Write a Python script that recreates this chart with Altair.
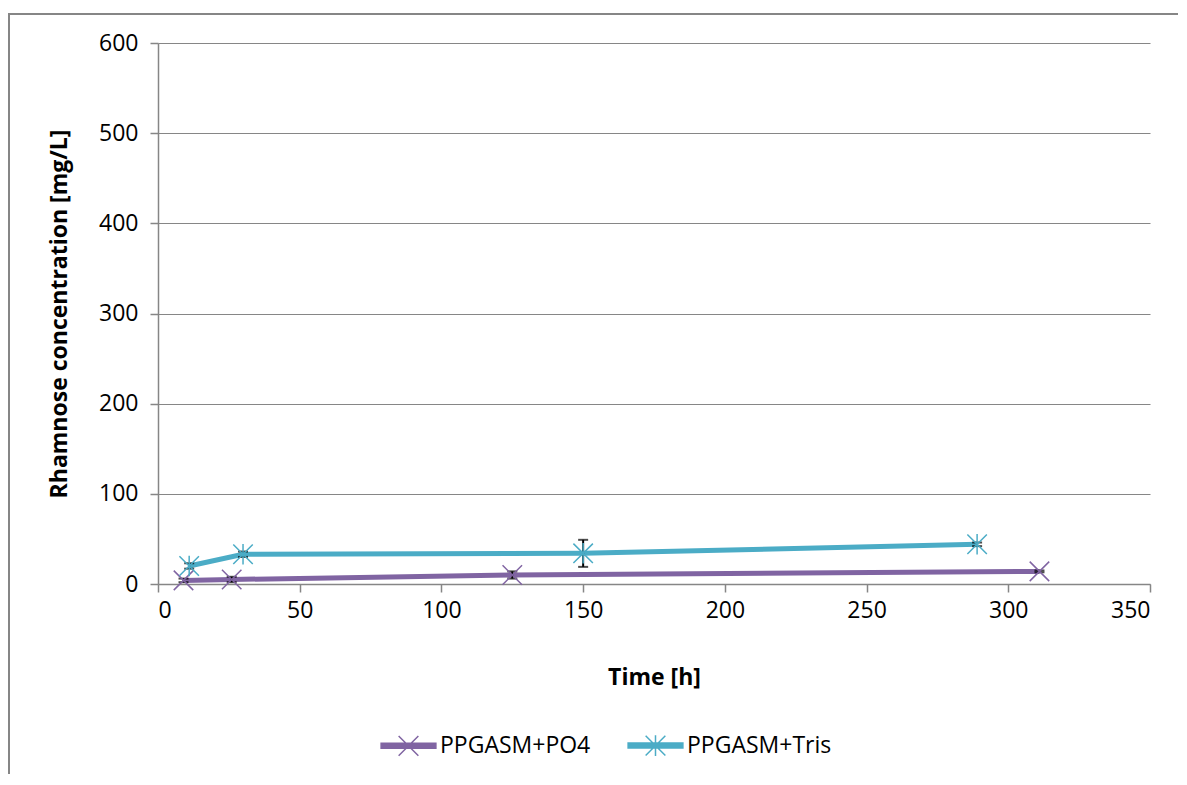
import altair as alt
import pandas as pd

series_names = ["PPGASM+PO4", "PPGASM+Tris"]
colors = ["#8064A2", "#4BACC6"]

po4_time = [9, 26, 125, 311]
po4_conc = [4, 5, 10, 14]
po4_err = [2, 3, 4, 1]

tris_time = [11, 30, 150, 289]
tris_conc = [20, 33, 34, 44]
tris_err = [3, 3, 15, 2]

rows = []
for t, c, e in zip(po4_time, po4_conc, po4_err):
    rows.append({"series": series_names[0], "time": t, "conc": c, "lo": c - e, "hi": c + e})
for t, c, e in zip(tris_time, tris_conc, tris_err):
    rows.append({"series": series_names[1], "time": t, "conc": c, "lo": c - e, "hi": c + e})
df = pd.DataFrame(rows)

FONT = "Open Sans"
FS = 23
x_path = "M-1,-1L1,1M-1,1L1,-1"
star_path = "M-1,-1L1,1M-1,1L1,-1M0,-1.05L0,1.05"
legend_bar = "M-1,-0.09L1,-0.09L1,0.09L-1,0.09Z "
legend_x = legend_bar + "M-0.36,-0.36L0.36,0.36M-0.36,0.36L0.36,-0.36"
legend_star = legend_x + "M0,-0.38L0,0.38"

x_scale = alt.Scale(domain=[0, 350], nice=False, zero=True)
y_scale = alt.Scale(domain=[0, 600], nice=False)

x_axis = alt.Axis(title="Time [h]", values=list(range(0, 351, 50)), grid=False,
                  tickSize=8, labelPadding=7, titlePadding=44)
y_axis = alt.Axis(title="Rhamnose concentration [mg/L]", values=list(range(0, 601, 100)),
                  grid=True, tickSize=8, labelPadding=12, titlePadding=27)

color_scale = alt.Scale(domain=series_names, range=colors)
legend_shape_scale = alt.Scale(domain=series_names, range=[legend_x, legend_star])

legend = alt.Legend(orient="none", direction="horizontal",
                    legendX=222, legendY=674, symbolType=legend_x,
                    symbolSize=3000, symbolStrokeWidth=1.5,
                    labelFontSize=FS, labelFont=FONT,
                    labelColor="black", labelOffset=3, columnPadding=34)

base = alt.Chart(df)

frame = alt.Chart(pd.DataFrame({"a": [0]})).mark_rect(
    fill="white", stroke="#868686", strokeWidth=2, fillOpacity=0
).encode(x=alt.value(-149), x2=alt.value(1200), y=alt.value(-29), y2=alt.value(900))

lines = base.mark_line(strokeWidth=5).encode(
    x=alt.X("time:Q", scale=x_scale, axis=x_axis),
    y=alt.Y("conc:Q", scale=y_scale, axis=y_axis),
    stroke=alt.Stroke("series:N", scale=color_scale, legend=legend, title=""),
    order="time:Q",
)

err_rule = base.mark_rule(color="black", strokeWidth=2).encode(
    x="time:Q", y="lo:Q", y2="hi:Q"
)
err_lo = base.mark_tick(color="black", orient="horizontal", size=10, thickness=2).encode(
    x="time:Q", y="lo:Q"
)
err_hi = base.mark_tick(color="black", orient="horizontal", size=10, thickness=2).encode(
    x="time:Q", y="hi:Q"
)

def pts_layer(name, path):
    return alt.Chart(df[df.series == name]).mark_point(
        filled=True, shape=path, size=380, strokeWidth=1.5, opacity=1
    ).encode(
        x="time:Q", y="conc:Q",
        stroke=alt.Stroke("series:N", scale=color_scale, legend=legend, title=""),
        fill=alt.Fill("series:N", scale=color_scale, legend=legend, title=""),
    )

pts_po4 = pts_layer(series_names[0], x_path)
pts_tris = pts_layer(series_names[1], star_path)

# invisible helper that only gives the legend its per-series symbol shapes
legend_helper = base.mark_point(filled=True, size=0, strokeWidth=1.5, opacity=1).encode(
    x="time:Q", y="conc:Q",
    stroke=alt.Stroke("series:N", scale=color_scale, legend=legend, title=""),
    fill=alt.Fill("series:N", scale=color_scale, legend=legend, title=""),
    shape=alt.Shape("series:N", scale=legend_shape_scale, legend=legend, title=""),
)

chart = alt.layer(frame, lines, err_rule, err_lo, err_hi, pts_po4, pts_tris, legend_helper).properties(
    width=992, height=541,
    background="white",
    autosize=alt.AutoSizeParams(type="none"),
    padding={"left": 150, "top": 35, "right": 28, "bottom": 190},
).configure_view(stroke=None).configure_axis(
    labelFont=FONT, labelFontSize=FS, labelColor="black",
    titleFont=FONT, titleFontSize=FS, titleFontWeight="bold", titleColor="black",
    domainColor="#868686", domainWidth=1.5, tickColor="#868686", tickWidth=1.5,
    gridColor="#868686", gridWidth=1.2,
)

chart.save("out.html", embed_options={"renderer": "svg", "actions": False})
